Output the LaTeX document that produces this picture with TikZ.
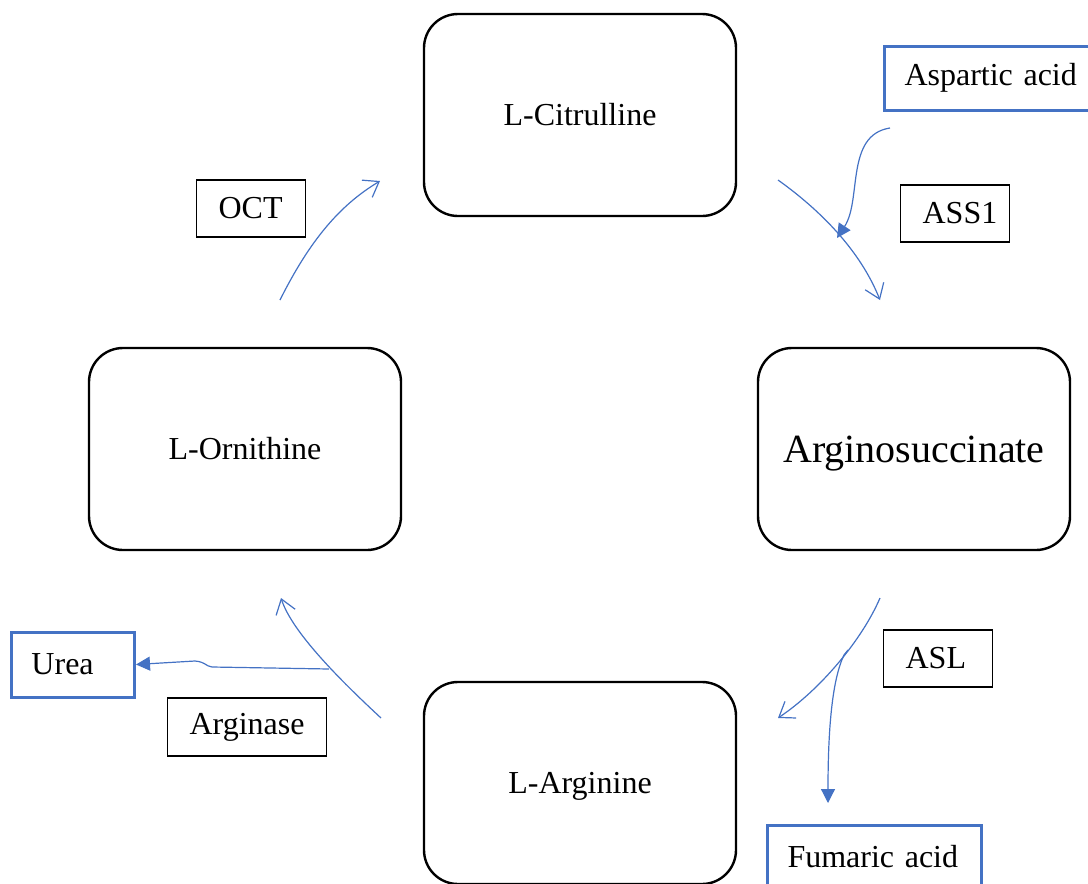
\documentclass[tikz,border=0pt]{standalone}
\usepackage{fontspec}
\setmainfont{Liberation Serif}
\usetikzlibrary{arrows.meta}
\definecolor{wordblue}{HTML}{4472C4}

\begin{document}
\begin{tikzpicture}
    [
    x=0.5pt,y=-0.5pt,
    stage/.style={draw,rounded corners=17pt,line width=1.2pt,minimum width=156pt,minimum height=101pt,font=\fontsize{16}{19}\selectfont},
    enzyme/.style={draw,line width=0.6pt,anchor=west,align=left,inner xsep=11pt,font=\fontsize{16}{19}\selectfont},
    product/.style={enzyme,draw=wordblue,line width=1.5pt,inner xsep=10pt},
    cyc/.style={wordblue,line width=0.6pt,-{Straight Barb[length=7pt,width=10pt]}},
    branch/.style={wordblue,line width=0.6pt,-{Triangle[length=7pt,width=7pt]}}
    ]
\useasboundingbox (0,0) rectangle (1088,884);
% main cycle
\node[stage] (cit) at (580,115) {L-Citrulline};
\node[stage,text depth=0pt,font=\fontsize{20}{24}\selectfont] (asu) at (914,449) {Arginosuccinate};
\node[stage,text depth=0pt] (arg) at (580,783) {L-Arginine};
\node[stage] (orn) at (245,449) {L-Ornithine};
% enzymes
\node[enzyme,text width=32.5pt,minimum height=28.5pt] (oct) at (196,208.5) {OCT};
\node[enzyme,text width=32.5pt,minimum height=28.5pt] (ass) at (900,213.5) {ASS1};
\node[enzyme,text width=32.5pt,minimum height=28.5pt] (asl) at (883,658.5) {ASL};
\node[enzyme,text width=57.5pt,minimum height=29pt] (ase) at (167,727) {Arginase};
% side products
\node[product,text width=87pt,minimum height=32pt] (asp) at (883,78) {Aspartic acid};
\node[product,text width=87pt,minimum height=32pt] (fum) at (766,857) {Fumaric acid};
\node[product,text width=41.5pt,minimum height=32.5pt] (urea) at (10,664.5) {Urea};
% free ends
\coordinate (c1) at (280,300);
\coordinate (c2) at (380,181);
\coordinate (c3) at (778,180);
\coordinate (c4) at (880,300);
\coordinate (c5) at (880,598);
\coordinate (c6) at (778,718);
\coordinate (c7) at (381,718);
\coordinate (c8) at (281,598);
\coordinate (a1) at (890,128);
\coordinate (a2) at (837,238);
\coordinate (f1) at (848,650);
\coordinate (f2) at (828,803);
\coordinate (u1) at (329,669);
\draw[cyc] (c1) .. controls (310,240) and (340,205) .. (c2);
\draw[cyc] (c3) .. controls (820,210) and (860,250) .. (c4);
\draw[cyc] (c5) .. controls (862,640) and (820,690) .. (c6);
\draw[cyc] (c7) .. controls (340,680) and (292,632) .. (c8);
\draw[branch] (a1) .. controls (845,135) and (862,200) .. (a2);
\draw[branch] (f1) -- (844,655) .. controls (832,680) and (828,730) .. (f2);
\draw[branch] (u1) -- (212,667) .. controls (205,666) and (206,662) .. (195,661) -- (urea.east);
\end{tikzpicture}
\end{document}
